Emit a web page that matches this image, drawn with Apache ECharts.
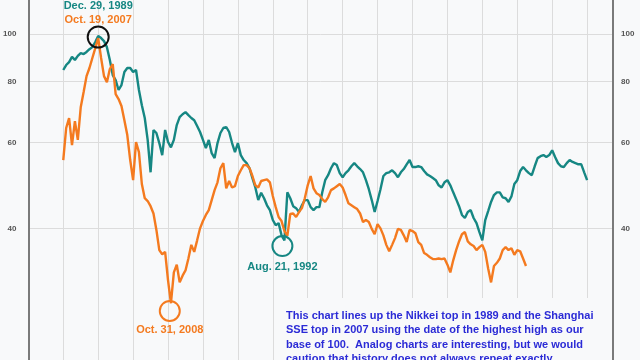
<!DOCTYPE html>
<html>
<head>
<meta charset="utf-8">
<script src="https://cdn.jsdelivr.net/npm/echarts@6/dist/echarts.min.js"></script>
<style>
html,body{margin:0;padding:0;background:#f8f9fa;}
#chart{width:640px;height:360px;}
</style>
</head>
<body>
<div id="chart"></div>
<script>
// Months relative to the market top; samples every half month
const startMonth = -6;
const stepMonths = 0.5;
const yTickValues = [40, 60, 80, 100];

// Nikkei, top of Dec. 29, 1989 = 100
const nikkeiValues = [
84.4,86.4,87.6,89.8,88.5,90.2,91.4,91.0,91.9,93.1,94.0,96.3,99.1,98.1,96.7,94.0,88.5,82.4,80.5,76.8,
78.6,83.6,85.2,85.2,83.6,84.4,76.8,71.5,67.3,60.7,52.1,63.6,62.7,59.8,56.5,63.6,60.1,58.6,60.7,65.1,
67.6,68.5,69.2,68.2,67.3,66.6,64.8,63.0,60.7,58.4,60.7,57.0,55.7,59.8,62.7,64.2,64.5,63.0,59.8,57.3,
59.8,56.5,55.2,54.4,53.1,50.7,48.5,45.7,47.3,46.1,44.6,43.6,41.6,40.6,41.0,38.7,37.8,47.4,46.1,44.4,
44.0,43.2,44.6,45.7,45.7,44.2,43.6,44.2,44.2,47.4,50.2,51.4,53.1,54.4,53.9,51.9,50.9,51.9,52.6,53.6,
54.4,53.6,52.9,52.1,50.2,48.1,45.7,43.2,45.5,48.1,51.2,51.9,52.1,52.6,51.9,50.9,52.1,52.9,54.1,55.2,
53.4,53.4,53.6,53.4,52.4,51.6,51.2,50.7,50.2,49.0,48.5,49.7,50.2,49.0,47.4,45.9,44.4,42.6,42.0,43.2,
43.6,42.0,41.0,39.3,37.8,41.6,43.4,45.3,46.8,47.4,47.4,46.3,46.1,45.3,46.5,49.3,50.2,52.4,53.4,52.6,
51.9,51.4,53.6,55.7,56.2,56.5,56.0,56.5,57.8,56.0,54.4,53.6,53.4,54.4,55.2,54.7,54.4,54.1,54.1,52.1,
50.2
];

// Shanghai SSE, top of Oct. 19, 2007 = 100
const shanghaiValues = [
55.2,64.2,67.3,59.2,66.3,60.7,70.8,76.1,82.0,85.2,89.3,93.6,98.1,89.3,82.0,79.7,84.8,86.8,75.3,73.6,
71.2,66.6,62.1,55.2,50.2,60.1,57.3,49.3,46.1,45.5,44.4,42.9,39.7,36.1,35.4,35.8,31.3,28.1,32.5,33.7,
31.0,32.0,32.8,34.7,37.0,35.8,37.8,40.0,41.4,42.6,43.6,45.7,47.9,49.7,53.1,54.4,48.3,50.0,48.5,48.8,
51.2,52.6,53.9,53.9,53.1,51.2,49.0,48.5,50.0,50.2,50.4,49.7,46.6,44.2,42.2,41.4,39.5,38.6,42.8,42.9,
42.2,43.2,44.0,46.1,49.0,51.2,48.3,47.2,46.8,45.9,45.3,46.3,47.9,48.3,48.8,49.3,48.5,46.8,45.0,44.6,
44.2,43.8,42.9,41.2,41.6,41.2,39.9,38.9,40.8,40.0,38.7,37.0,35.9,37.0,38.2,39.9,39.7,38.7,37.5,39.7,
39.5,39.1,37.5,37.0,35.6,35.3,34.9,34.6,34.6,34.7,34.6,34.7,33.7,32.5,34.4,36.1,37.6,38.9,39.3,37.6,
37.1,36.8,36.1,36.6,37.0,35.8,33.1,31.0,33.5,34.0,34.7,36.1,36.6,36.1,36.4,35.3,36.1,35.9,34.7,33.5
];

// Annotated points: [month, value]
const topPoint = [0, 98.6];
const shanghaiLowPoint = [12.3, 27.1];
const nikkeiLowPoint = [31.65, 36.8];

const noteLines = [
  'This chart lines up the Nikkei top in 1989 and the Shanghai',
  'SSE top in 2007 using the date of the highest high as our',
  'base of 100.  Analog charts are interesting, but we would',
  'caution that history does not always repeat exactly.'
];

const teal = '#168783';
const orange = '#f47a1f';
const bg = '#f8f9fa';
const fontFam = '"Liberation Sans", Arial, sans-serif';

function toPairs(values) {
  return values.map((v, i) => [startMonth + i * stepMonths, v]);
}

const chart = echarts.init(document.getElementById('chart'), null, {renderer: 'canvas'});

const yAxisBase = {
  type: 'log',
  logBase: 10,
  min: 21.5,
  max: 117.4,
  axisLine: {show: true, onZero: false, lineStyle: {color: '#7a7a7a', width: 2}},
  axisTick: {show: false, customValues: yTickValues},
  axisLabel: {show: true, customValues: yTickValues, color: '#555', fontSize: 8,
    fontFamily: fontFam, fontWeight: 'bold'},
  splitLine: {show: true, lineStyle: {color: '#dcdcdc', width: 1}}
};

chart.setOption({
  backgroundColor: bg,
  animation: false,
  grid: {left: 26, right: 27, top: 0, bottom: 0, containLabel: false},
  xAxis: {
    type: 'value', min: -12, max: 88.45, interval: 6,
    axisLine: {show: false, onZero: false}, axisTick: {show: false}, axisLabel: {show: false},
    splitLine: {show: true, lineStyle: {color: '#dcdcdc', width: 1}}
  },
  yAxis: [
    Object.assign({}, yAxisBase, {position: 'left', axisLabel: Object.assign({}, yAxisBase.axisLabel, {margin: 12})}),
    Object.assign({}, yAxisBase, {position: 'right', splitLine: {show: false}, axisLabel: Object.assign({}, yAxisBase.axisLabel, {margin: 8})})
  ],
  series: [
    {
      name: 'Nikkei', type: 'line', yAxisIndex: 0, showSymbol: false, symbol: 'none',
      data: toPairs(nikkeiValues),
      lineStyle: {color: teal, width: 2.4}, itemStyle: {color: teal},
      markPoint: {
        symbol: 'circle', symbolSize: 20, silent: true,
        itemStyle: {color: 'rgba(0,0,0,0)', borderColor: teal, borderWidth: 2},
        label: {show: true, position: 'bottom', distance: 4, formatter: 'Aug. 21, 1992',
          color: teal, fontSize: 11, fontWeight: 'bold', fontFamily: fontFam},
        data: [{coord: nikkeiLowPoint}]
      }
    },
    {
      name: 'Shanghai SSE', type: 'line', yAxisIndex: 0, showSymbol: false, symbol: 'none',
      data: toPairs(shanghaiValues),
      lineStyle: {color: orange, width: 2.4}, itemStyle: {color: orange},
      markPoint: {
        symbol: 'circle', silent: true,
        data: [
          {
            coord: topPoint, symbolSize: 21,
            itemStyle: {color: 'rgba(0,0,0,0)', borderColor: '#111', borderWidth: 2},
            label: {show: true, position: 'top', distance: -1,
              formatter: '{a|Dec. 29, 1989}\n{b|Oct. 19, 2007}',
              rich: {
                a: {color: teal, fontSize: 11, fontWeight: 'bold', lineHeight: 14, fontFamily: fontFam},
                b: {color: orange, fontSize: 11, fontWeight: 'bold', lineHeight: 14, fontFamily: fontFam}
              }}
          },
          {
            coord: shanghaiLowPoint, symbolSize: 20,
            itemStyle: {color: 'rgba(0,0,0,0)', borderColor: orange, borderWidth: 2},
            label: {show: true, position: 'bottom', distance: 3, formatter: 'Oct. 31, 2008',
              color: orange, fontSize: 11, fontWeight: 'bold', fontFamily: fontFam}
          }
        ]
      }
    }
  ],
  graphic: [
    {
      type: 'rect', left: 280, top: 298, z: 50,
      shape: {width: 322, height: 70},
      style: {fill: bg}
    },
    {
      type: 'text', left: 286, top: 309, z: 51,
      style: {
        text: noteLines.join('\n'),
        fill: '#2b2bd6',
        font: 'bold 11px ' + fontFam,
        lineHeight: 14.3
      }
    }
  ]
});
</script>
</body>
</html>
